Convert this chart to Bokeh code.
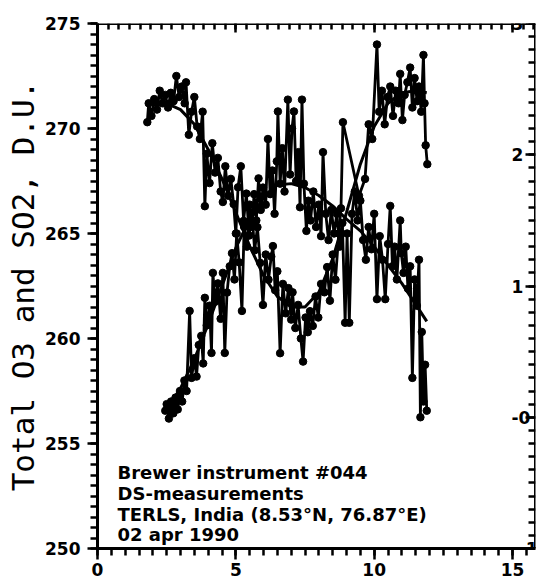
import numpy as np
from bokeh.plotting import figure
from bokeh.models import LinearAxis, Range1d, Label, SingleIntervalTicker, CustomJSTickFormatter
from bokeh.embed import file_html
from bokeh.resources import INLINE

# ---------------- data ----------------
# Total O3 (left axis, D.U.) vs time (hours)
o3_x = [1.80, 1.85, 1.95, 2.05, 2.15, 2.25, 2.35, 2.45, 2.55, 2.65, 2.75, 2.85, 2.95, 3.05,
        3.15, 3.20, 3.30, 3.40, 3.50, 3.60, 3.70, 3.80, 3.88, 3.95, 4.05, 4.15, 4.25, 4.35,
        4.45, 4.53, 4.62, 4.72, 4.82, 4.92, 5.00, 5.08, 5.18, 5.28, 5.38, 5.48, 5.58, 5.68,
        5.78, 5.88, 5.98, 6.08, 6.18, 6.28, 6.34, 6.42, 6.50, 6.60, 6.70, 6.80, 6.90, 7.00,
        7.05, 7.15, 7.25, 7.35, 7.43, 7.52, 7.60, 7.68, 7.78, 7.88, 7.98, 8.08, 8.20, 8.30,
        8.40, 8.50, 8.60, 8.72, 8.80, 8.87, 9.45, 9.67, 9.80, 9.93, 10.10, 10.18, 10.28, 10.38,
        10.48, 10.58, 10.68, 10.78, 10.88, 10.94, 11.02, 11.10, 11.20, 11.30, 11.38, 11.46,
        11.55, 11.62, 11.70, 11.78, 11.82, 11.86, 11.92]
o3_y = [270.3, 271.2, 270.6, 271.4, 270.9, 271.8, 271.2, 271.6, 271.0, 271.7, 271.3, 272.5, 271.5, 272.0,
        271.2, 272.2, 269.7, 270.8, 271.5, 270.1, 269.5, 270.8, 266.3, 268.8, 267.4, 269.3, 267.9, 268.6,
        267.0, 266.5, 268.2, 266.8, 267.6, 266.4, 265.0, 267.2, 268.2, 265.6, 266.9, 264.9, 266.0, 264.2,
        265.3, 263.6, 261.6, 264.0, 262.8, 263.9, 264.4, 262.3, 263.2, 259.3, 262.6, 261.2, 262.4, 260.9,
        262.2, 260.5, 261.6, 260.0, 258.9, 261.0, 260.3, 261.3, 260.6, 262.0, 261.0, 262.6, 262.2, 263.4,
        261.8, 264.0, 262.8, 265.0, 266.2, 270.3, 266.8, 267.6, 270.2, 269.5, 274.0, 270.8, 271.8, 270.2,
        271.5, 272.0, 270.6, 271.8, 271.2, 272.6, 270.4, 271.6, 272.2, 272.9, 271.0, 272.4,
        271.3, 272.0, 270.8, 273.5, 271.2, 269.2, 268.3]

# SO2 (right axis, D.U.) vs time (hours)
so2_x = [2.45, 2.50, 2.58, 2.66, 2.74, 2.82, 2.90, 2.98, 3.06, 3.14, 3.22, 3.33, 3.40, 3.50,
         3.58, 3.66, 3.75, 3.82, 3.88, 3.95, 4.05, 4.12, 4.17, 4.25, 4.35, 4.45, 4.53, 4.60,
         4.68, 4.78, 4.86, 4.95, 5.03, 5.12, 5.22, 5.30, 5.40, 5.50, 5.58, 5.66, 5.74, 5.82,
         5.90, 5.98, 6.08, 6.16, 6.24, 6.32, 6.40, 6.48, 6.52, 6.60, 6.68, 6.76, 6.88, 6.96,
         7.03, 7.10, 7.18, 7.26, 7.32, 7.39, 7.46, 7.55, 7.62, 7.70, 7.80, 7.90, 8.00, 8.08,
         8.15, 8.25, 8.35, 8.45, 8.55, 8.65, 8.75, 8.85, 8.95, 9.02, 9.10, 9.20, 9.30, 9.40,
         9.50, 9.60, 9.70, 9.80, 9.90, 10.00, 10.10, 10.20, 10.30, 10.40, 10.50, 10.58, 10.66,
         10.74, 10.82, 10.94, 10.98, 11.06, 11.14, 11.22, 11.30, 11.38, 11.46, 11.54, 11.62,
         11.67, 11.72, 11.78, 11.84, 11.90]
so2_y = [0.05, 0.10, -0.01, 0.12, 0.03, 0.15, 0.06, 0.20, 0.12, 0.28, 0.20, 0.81, 0.30, 0.45,
         0.31, 0.55, 0.62, 0.41, 0.91, 0.70, 0.85, 0.49, 1.10, 0.88, 1.02, 0.75, 1.10, 0.49,
         0.95, 1.15, 1.25, 1.05, 1.40, 1.18, 0.81, 1.45, 1.30, 1.62, 1.45, 1.70, 1.50, 1.82,
         1.58, 1.75, 1.62, 2.12, 1.70, 1.88, 1.55, 1.95, 2.33, 1.78, 2.05, 1.72, 2.42, 1.85,
         2.20, 2.33, 1.80, 2.02, 1.60, 2.42, 1.78, 1.42, 1.65, 1.50, 1.72, 1.45, 1.62, 1.38,
         2.02, 1.55, 1.35, 1.58, 1.40, 1.55, 1.30, 1.48, 0.72, 1.40, 0.72, 1.55, 1.72, 1.50,
         1.65, 1.35, 1.20, 1.45, 1.28, 1.55, 0.90, 1.38, 1.20, 0.90, 1.32, 1.61, 1.15,
         1.30, 1.05, 1.50, 1.25, 1.10, 1.30, 0.98, 1.15, 0.30, 1.05, 0.85, 1.20,
         0.00, 0.65, 0.12, 0.40, 0.05]

# smooth fitted curves
o3_fit_x = [1.8, 2.5, 3.0, 3.5, 4.0, 4.5, 5.0, 5.5, 6.0, 6.5, 7.0, 7.5, 8.0, 8.5, 9.0, 9.5,
            10.0, 10.5, 11.0, 11.5, 11.9]
o3_fit_y = [271.3, 271.2, 270.9, 270.2, 269.0, 267.6, 266.0, 264.4, 263.0, 262.0, 261.5, 261.5,
            262.2, 263.8, 266.0, 268.3, 270.1, 271.2, 271.7, 271.8, 271.7]
so2_fit_x = [2.5, 3.0, 3.5, 4.0, 4.5, 5.0, 5.5, 6.0, 6.5, 7.0, 7.5, 8.0, 8.5, 9.0, 9.5,
             10.0, 10.5, 11.0, 11.5, 11.9]
so2_fit_y = [0.06, 0.22, 0.44, 0.71, 1.00, 1.29, 1.51, 1.67, 1.77, 1.78, 1.75, 1.69, 1.61,
             1.51, 1.42, 1.30, 1.16, 1.02, 0.86, 0.73]

x_lo, x_hi = 0, 15.83
o3_lo, o3_hi = 250, 275
so2_lo, so2_hi = -1, 3
x_ticks_interval = 5
left_ticks_interval = 5
right_ticks_interval = 1
right_label_overrides = {0: "-0"}

y_title = "Total O3 and SO2, D.U."
info_lines = ["Brewer instrument #044",
              "DS-measurements",
              "TERLS, India (8.53\u00b0N, 76.87\u00b0E)",
              "02 apr 1990"]

# ---------------- figure ----------------
p = figure(width=539, height=580, output_backend="svg", toolbar_location=None,
           x_range=Range1d(x_lo, x_hi), y_range=Range1d(o3_lo, o3_hi),
           min_border_left=97, min_border_top=23, min_border_right=4, min_border_bottom=32,
           background_fill_color="white", border_fill_color="white")
p.outline_line_color = None
p.grid.visible = False
p.extra_y_ranges = {"so2": Range1d(so2_lo, so2_hi)}

LBL_FONT = "DejaVu Sans"

def style_axis(ax):
    ax.axis_line_width = 3
    ax.axis_line_color = "black"
    ax.major_tick_line_width = 2.5
    ax.minor_tick_line_width = 2.5
    ax.major_tick_line_color = "black"
    ax.minor_tick_line_color = "black"
    ax.major_label_text_font = LBL_FONT
    ax.major_label_text_font_style = "bold"
    ax.major_label_text_font_size = "17px"
    ax.major_label_text_color = "black"

# bottom axis
xa = p.xaxis[0]
style_axis(xa)
xa.ticker = SingleIntervalTicker(interval=x_ticks_interval, num_minor_ticks=10)
xa.major_tick_in = 0
xa.major_tick_out = 11
xa.minor_tick_in = 0
xa.minor_tick_out = 7
xa.major_label_standoff = 3

# left axis
ya = p.yaxis[0]
style_axis(ya)
ya.ticker = SingleIntervalTicker(interval=left_ticks_interval, num_minor_ticks=10)
ya.major_tick_in = 0
ya.major_tick_out = 10
ya.minor_tick_in = 0
ya.minor_tick_out = 7
ya.major_label_standoff = 7
ya.axis_label = y_title
ya.axis_label_text_font = "DejaVu Sans Mono"
ya.axis_label_text_font_style = "normal"
ya.axis_label_text_font_size = "31px"
ya.axis_label_text_color = "black"
ya.axis_label_standoff = 1

# top axis (ticks only, pointing in)
ta = LinearAxis(ticker=SingleIntervalTicker(interval=x_ticks_interval, num_minor_ticks=13),
                formatter=CustomJSTickFormatter(code="return ''"))
style_axis(ta)
ta.fixed_location = o3_hi
ta.major_tick_in = 9
ta.major_tick_out = 0
ta.minor_tick_in = 6
ta.minor_tick_out = 0
ta.major_label_standoff = 0
p.add_layout(ta, "above")

# right axis (SO2), labels inside the frame
ra = LinearAxis(y_range_name="so2",
                ticker=SingleIntervalTicker(interval=right_ticks_interval, num_minor_ticks=10))
style_axis(ra)
ra.fixed_location = x_hi
ra.major_tick_in = 10
ra.major_tick_out = 0
ra.minor_tick_in = 7
ra.minor_tick_out = 0
ra.major_label_overrides = right_label_overrides
ra.major_label_standoff = -24
p.add_layout(ra, "right")

# ---------------- data glyphs ----------------
LW = 2.8
MS = 7.5
p.line(o3_x, o3_y, line_color="black", line_width=LW)
p.scatter(o3_x, o3_y, size=MS, fill_color="black", line_color="black")
p.line(so2_x, so2_y, line_color="black", line_width=LW, y_range_name="so2")
p.scatter(so2_x, so2_y, size=MS, fill_color="black", line_color="black", y_range_name="so2")
p.line(o3_fit_x, o3_fit_y, line_color="black", line_width=3)
p.line(so2_fit_x, so2_fit_y, line_color="black", line_width=3, y_range_name="so2")

# ---------------- texts ----------------
ys = [76, 55, 34, 14]
for t, yy in zip(info_lines, ys):
    p.add_layout(Label(x=20, y=yy, x_units="screen", y_units="screen", text=t,
                       text_font=LBL_FONT, text_font_style="bold", text_font_size="18px",
                       text_color="black", text_baseline="alphabetic"))

open("out.html", "w").write(file_html(p, INLINE))
